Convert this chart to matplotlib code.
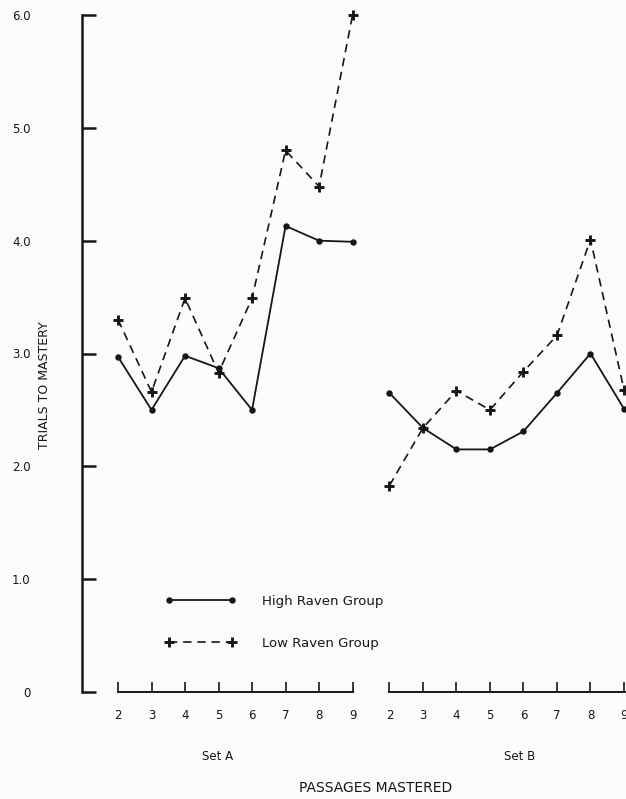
import numpy as np
import matplotlib
matplotlib.use("Agg")
import matplotlib.pyplot as plt
from matplotlib.lines import Line2D

# passages mastered (same labels for both sets)
passages = [2, 3, 4, 5, 6, 7, 8, 9]

# trials to mastery
high_a = [2.97, 2.50, 2.98, 2.87, 2.50, 4.13, 4.00, 3.99]
low_a = [3.30, 2.66, 3.49, 2.83, 3.49, 4.80, 4.48, 6.00]
high_b = [2.65, 2.34, 2.15, 2.15, 2.31, 2.65, 3.00, 2.51]
low_b = [1.83, 2.34, 2.67, 2.50, 2.84, 3.16, 4.01, 2.68]

y_ticks = [0, 1, 2, 3, 4, 5, 6]
y_labels = ["0", "1.0", "2.0", "3.0", "4.0", "5.0", "6.0"]

ink = "#161616"
paper = "#fbfbf9"
W, H = 626, 799

fig = plt.figure(figsize=(W / 100, H / 100), dpi=100, facecolor=paper)
# axes placed so that y=0 sits at pixel row 692 and y=6 at row 15
ax = fig.add_axes([82 / W, (H - 692) / H, (W - 82) / W, (692 - 15) / H])
ax.set_facecolor(paper)

xa = np.arange(len(passages), dtype=float)
xb = xa + 8.1

dash = (0, (5, 3.5))
# High Raven group: solid line with small dots
ax.plot(xa, high_a, color=ink, lw=1.3, marker="o", ms=3.6, clip_on=False)
ax.plot(xb, high_b, color=ink, lw=1.3, marker="o", ms=3.6, clip_on=True)
# Low Raven group: dashed line with plus signs
ax.plot(xa, low_a, color=ink, lw=1.2, ls=dash, marker="+", ms=7.5, mew=2.1,
        clip_on=False)
ax.plot(xb, low_b, color=ink, lw=1.2, ls=dash, marker="+", ms=7.5, mew=2.1,
        clip_on=True)

ax.set_xlim(-1.075, 15.16)
ax.set_ylim(0, 6)

for s in ("top", "right", "bottom"):
    ax.spines[s].set_visible(False)
ax.spines["left"].set_linewidth(1.8)
ax.spines["left"].set_color(ink)

ax.set_yticks(y_ticks)
ax.set_yticklabels(y_labels)
ax.tick_params(axis="y", direction="in", length=10, width=1.8, color=ink,
               pad=37, labelsize=8.5, labelcolor=ink)

ax.set_xticks(np.concatenate([xa, xb]))
ax.set_xticklabels([str(p) for p in passages] * 2)
ax.tick_params(axis="x", direction="in", length=7, width=1.2, color=ink,
               pad=12, labelsize=8.5, labelcolor=ink)

# separate baselines for Set A and Set B
base = ax.get_xaxis_transform()
ax.plot([xa[0], xa[-1]], [0, 0], color=ink, lw=1.4, transform=base, clip_on=False)
ax.plot([xb[0], xb[-1] + 0.5], [0, 0], color=ink, lw=1.4, transform=base,
        clip_on=False)

fig.text(218 / W, 1 - 757 / H, "Set A", ha="center", va="center",
         fontsize=8.5, color=ink)
fig.text(520 / W, 1 - 757 / H, "Set B", ha="center", va="center",
         fontsize=8.5, color=ink)
fig.text(376 / W, 1 - 788 / H, "PASSAGES MASTERED", ha="center", va="center",
         fontsize=10, color=ink)
fig.text(45 / W, 1 - 385 / H, "TRIALS TO MASTERY", ha="center", va="center",
         rotation=90, fontsize=9, color=ink)

handles = [
    Line2D([], [], color=ink, lw=1.3, marker="o", ms=3.6),
    Line2D([], [], color=ink, lw=1.2, ls=dash, marker="+", ms=7.5, mew=2.1),
]
ax.legend(handles, ["High Raven Group", "Low Raven Group"],
          loc="upper left", bbox_to_anchor=(158 / W, 1 - 588 / H),
          bbox_transform=fig.transFigure, frameon=False, numpoints=2,
          handlelength=5.4, handletextpad=2.0, labelspacing=2.2,
          borderpad=0, fontsize=9.5, labelcolor=ink)

fig.savefig("out.png", dpi=100, facecolor=paper)
